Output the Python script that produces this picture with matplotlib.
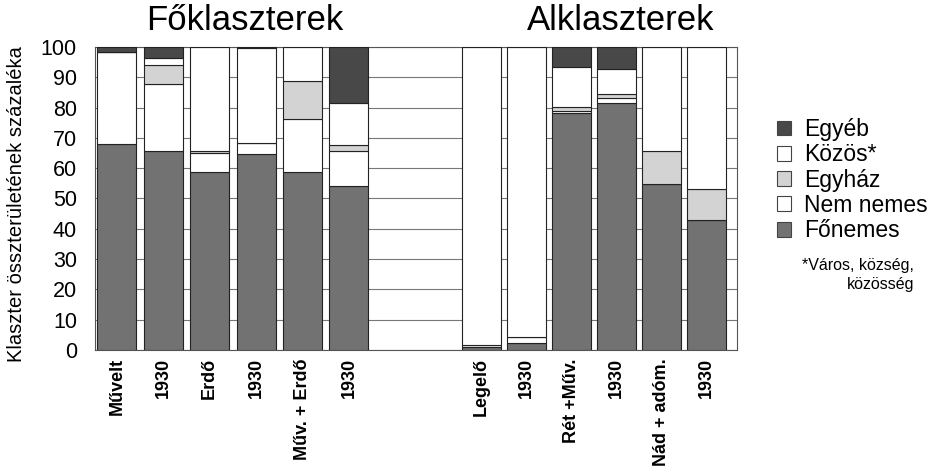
import matplotlib.pyplot as plt
import numpy as np
from matplotlib.patches import Patch

plt.rcParams['font.family'] = ['Liberation Sans', 'DejaVu Sans']

# kategóriák (bal: főklaszterek, jobb: alklaszterek)
labels = ['Művelt', '1930', 'Erdő', '1930', 'Műv. + Erdő', '1930',
          'Legelő', '1930', 'Rét +Műv.', '1930', 'Nád + adóm.', '1930']

# százalékok alulról felfelé
fonemes = [67.9, 65.7, 58.7, 64.6, 58.7, 54.2, 0.9, 2.4, 78.3, 81.4, 54.7, 42.9]
nem_nemes = [30.5, 22.0, 6.2, 3.6, 17.5, 11.5, 0.7, 2.0, 0.7, 1.6, 0.0, 0.0]
egyhaz = [0.0, 6.2, 0.8, 0.0, 12.6, 2.0, 0.0, 0.0, 1.3, 1.5, 11.0, 10.2]
kozos = [0.0, 2.3, 34.3, 31.4, 11.2, 13.7, 98.4, 95.6, 13.2, 8.1, 34.3, 46.9]
egyeb = [1.6, 3.8, 0.0, 0.4, 0.0, 18.6, 0.0, 0.0, 6.5, 7.4, 0.0, 0.0]

series = [('Főnemes', fonemes, '#727272'),
          ('Nem nemes', nem_nemes, 'white'),
          ('Egyház', egyhaz, '#d3d3d3'),
          ('Közös*', kozos, 'white'),
          ('Egyéb', egyeb, '#484848')]

# x pozíciók: két csoport, köztük üres hely
x = np.concatenate([np.arange(6), 7.85 + 0.97 * np.arange(6)])

fig = plt.figure(figsize=(9.36, 4.74), dpi=100)
ax = fig.add_axes([0.1015, 0.2616, 0.6859, 0.6393])

bottom = np.zeros(len(labels))
for name, vals, col in series:
    vals = np.array(vals)
    ax.bar(x, vals, width=0.84, bottom=bottom, color=col,
           edgecolor='#222222', linewidth=0.8, zorder=3)
    bottom += vals

ax.set_xlim(-0.47, 13.36)
ax.set_ylim(0, 100)
ax.set_yticks(range(0, 101, 10))
ax.yaxis.grid(True, color='#777777', linewidth=0.8, zorder=0)
ax.tick_params(axis='y', length=0, labelsize=15.5, pad=13)
ax.tick_params(axis='x', length=0, pad=6)
ax.set_xticks(x)
ax.set_xticklabels(labels, rotation=90, fontsize=13, fontweight='bold', va='top')
for s in ax.spines.values():
    s.set_color('#555555')
    s.set_linewidth(0.8)

ax.set_ylabel('Klaszter összterületének százaléka', fontsize=14.5)
ax.yaxis.set_label_coords(-0.108, 0.48)

fig.text(245 / 936, 1 - 20 / 474, 'Főklaszterek', fontsize=25,
         ha='center', va='center')
fig.text(621 / 936, 1 - 20 / 474, 'Alklaszterek', fontsize=25,
         ha='center', va='center')

handles = [Patch(facecolor=col, edgecolor='#444444', linewidth=0.8, label=name)
           for name, vals, col in reversed(series)]
fig.legend(handles=handles, loc='upper left', bbox_to_anchor=(0.830, 0.751),
           frameon=False, fontsize=16.5, handlelength=0.62, handleheight=0.62,
           handletextpad=0.55, labelspacing=0.1, borderpad=0, borderaxespad=0)

fig.text(914 / 936, 1 - 275 / 474, '*Város, község,\nközösség', fontsize=11.5,
         ha='right', va='center', multialignment='right', linespacing=1.3)

fig.savefig('out.png', dpi=100)
